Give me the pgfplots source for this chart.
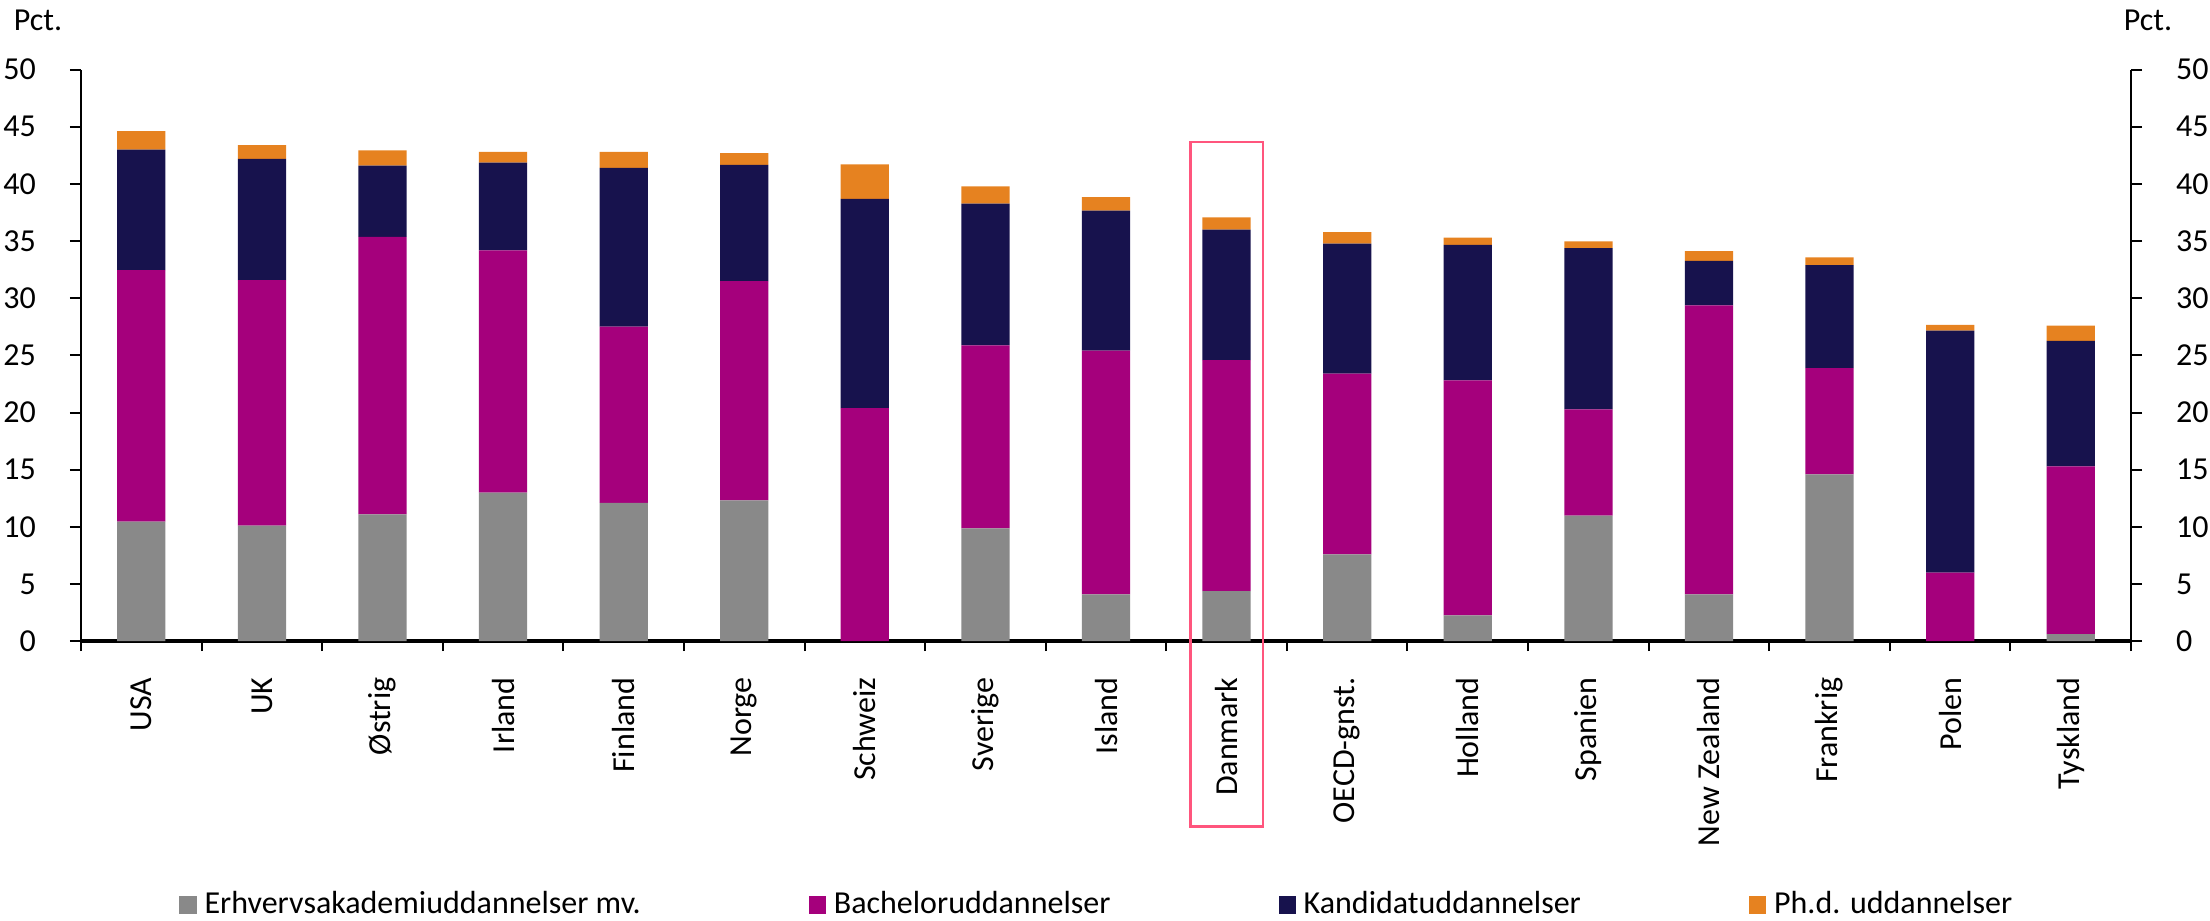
\documentclass[border=0pt]{standalone}
\usepackage{fontspec}
\setmainfont{Carlito}
\usepackage{pgfplots}
\pgfplotsset{compat=1.18}
\usepackage{pgfplotstable}

\definecolor{erhv}{RGB}{137,137,137}
\definecolor{bach}{RGB}{165,0,124}
\definecolor{kand}{RGB}{23,18,77}
\definecolor{phd}{RGB}{230,130,32}
\definecolor{boxpink}{RGB}{255,85,125}

% increments per level
\pgfplotstableread{
x  erhv  bach  kand  phd
0  10.46 22.00 10.54 1.62
1  10.10 21.48 10.61 1.21
2  11.09 24.28 6.23  1.33
3  13.00 21.19 7.67  0.95
4  12.09 15.43 13.89 1.40
5  12.31 19.19 10.17 1.03
6  0.00  20.38 18.31 3.02
7  9.87  16.00 12.41 1.51
8  4.09  21.33 12.24 1.18
9  4.38  20.20 11.42 1.07
10 7.59  15.81 11.38 1.00
11 2.25  20.56 11.86 0.63
12 10.98 9.29  14.11 0.59
13 4.09  25.28 3.90  0.85
14 14.59 9.29  9.02  0.67
15 0.00  6.00  21.16 0.51
16 0.63  14.66 10.98 1.33
}\data

\newcommand\chartfont{\fontsize{8}{9.6}\selectfont}

\begin{document}
\begin{tikzpicture}[font=\chartfont]
\begin{axis}[
  scale only axis, width=512.5pt, height=142.9pt,
  xmin=-0.5, xmax=16.5, ymin=0, ymax=50,
  ybar stacked, bar width=0.4,
  axis x line*=bottom, axis y line*=left,
  axis line style={line width=0.5pt},
  x axis line style={line width=1pt},
  tick align=outside,
  xtick={0,...,16},
  xticklabels={USA,UK,Østrig,Irland,Finland,Norge,Schweiz,Sverige,Island,Danmark,OECD-gnst.,Holland,Spanien,New Zealand,Frankrig,Polen,Tyskland},
  major x tick style={draw=none},
  minor xtick={-0.5,0.5,...,16.5},
  minor x tick style={black,line width=0.5pt},
  minor tick length=2.5pt,
  major tick length=2.75pt,
  y tick style={black,line width=0.5pt},
  ytick={0,5,...,50},
  /pgf/number format/assume math mode=true,
  tick label style={font=\chartfont},
  yticklabel style={xshift=-5pt},
  xticklabel style={yshift=-2.8pt,rotate=90,anchor=east},
  legend columns=4,
  legend cell align=left,
  legend style={at={(0.497,-0.462)},anchor=center,draw=none,font=\chartfont,
    /tikz/every even column/.append style={column sep=40pt}},
  legend image code/.code={\fill[#1] (-1.5pt,-2.2pt) rectangle (2.8pt,2.2pt);},
  clip=false,
]
\addplot[fill=erhv,draw=none] table[x=x,y=erhv]{\data};
\addplot[fill=bach,draw=none] table[x=x,y=bach]{\data};
\addplot[fill=kand,draw=none] table[x=x,y=kand]{\data};
\addplot[fill=phd,draw=none] table[x=x,y=phd]{\data};
\legend{Erhvervsakademiuddannelser mv.,Bacheloruddannelser,Kandidatuddannelser,Ph.d. uddannelser}
\draw[boxpink,line width=0.6pt] (axis cs:8.7,43.66) rectangle (axis cs:9.3,-16.2);
\node at (rel axis cs:0,1) [xshift=-10.75pt,yshift=12.25pt] {Pct.};
\coordinate (bl) at (rel axis cs:0,0);
\coordinate (tr) at (rel axis cs:1,1);
\end{axis}
\begin{axis}[
  scale only axis, width=512.5pt, height=142.9pt,
  xmin=-0.5, xmax=16.5, ymin=0, ymax=50,
  axis y line*=right, axis x line=none,
  axis line style={line width=0.5pt},
  tick align=outside, major tick length=2.75pt,
  y tick style={black,line width=0.5pt},
  ytick={0,5,...,50},
  /pgf/number format/assume math mode=true,
  tick label style={font=\chartfont},
  yticklabel style={xshift=5pt},
  clip=false,
]
\node at (rel axis cs:1,1) [xshift=4.25pt,yshift=12.25pt] {Pct.};
\end{axis}
\pgfresetboundingbox
\path[use as bounding box] ([xshift=-20.25pt,yshift=-69.75pt]bl) rectangle ([xshift=19.75pt,yshift=17.4pt]tr);
\end{tikzpicture}
\end{document}
